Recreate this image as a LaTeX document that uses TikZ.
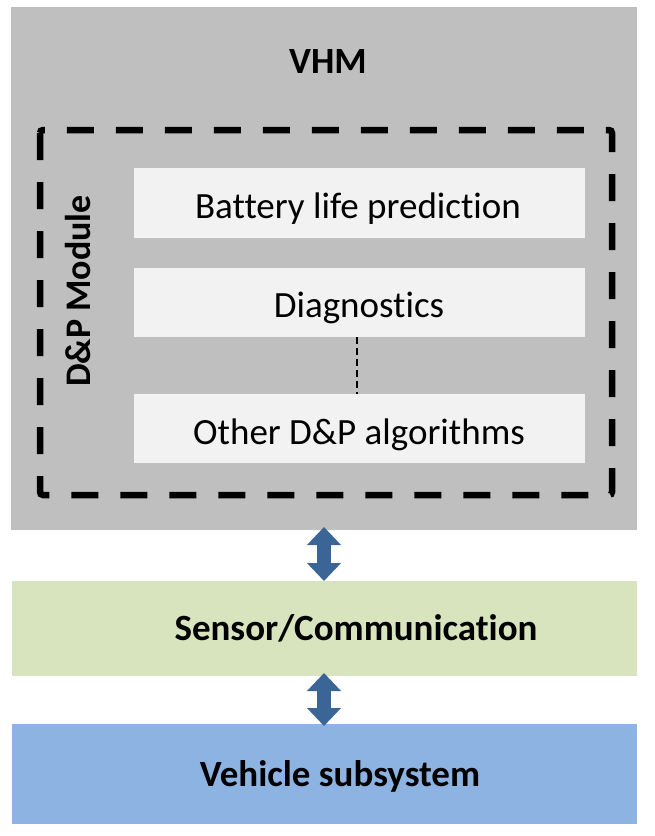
\documentclass[tikz,border=0pt]{standalone}
\usepackage{fontspec}
\setmainfont[Ligatures={NoCommon}]{Carlito}
\usetikzlibrary{arrows.meta}
\definecolor{vhmgray}{HTML}{BFBFBF}
\definecolor{boxlight}{HTML}{F2F2F2}
\definecolor{sensgreen}{HTML}{D7E4BD}
\definecolor{vehblue}{HTML}{8DB3E2}
\definecolor{arrblue}{HTML}{3C6597}
\tikzset{
  x=1pt, y=-1pt,
  lbl/.style={inner sep=0pt, anchor=base, font=\fontsize{37}{40}\selectfont},
  blbl/.style={lbl, font=\fontsize{37}{40}\selectfont\bfseries},
  dpbox/.style={draw=black, line width=6.5pt, dash pattern=on 27pt off 22pt, rounded corners=3pt},
  dblarrow/.style={draw=arrblue, line width=14pt, {Triangle[width=33pt,length=18pt]}-{Triangle[width=33pt,length=18pt]}},
  vdash/.style={draw=black, line width=2.5pt, dash pattern=on 7pt off 4pt}
}
\begin{document}
\begin{tikzpicture}
\useasboundingbox (0,0) rectangle (655,836);
\fill[white] (0,0) rectangle (655,836);
% main panels
\path[fill=vhmgray] (11,7) rectangle (637,530);
\coordinate (vhmS) at (324,530);
\path[fill=sensgreen] (12,581) rectangle (637,676);
\coordinate (sensN) at (324,581);
\coordinate (sensS) at (324,676);
\path[fill=vehblue] (12,724) rectangle (637,824);
\coordinate (vehN) at (324,724);
% titles
\node[blbl] (vhm) at (328,73) {VHM};
\node[blbl] (sens) at (356,640) {Sensor/Communication};
\node[blbl] (veh) at (340,786) {Vehicle subsystem};
% dashed module
\draw[dpbox] (40,130) rectangle (612,495);
\node[inner sep=0pt, rotate=90, font=\fontsize{36}{40}\selectfont\bfseries] (dp) at (78,291) {D\&P Module};
% algorithm boxes
\path[fill=boxlight] (134,168) rectangle (585,238);
\path[fill=boxlight] (134,268) rectangle (585,337);
\path[fill=boxlight] (134,394) rectangle (585,463);
\coordinate (diagS) at (357,337);
\coordinate (otherN) at (357,394);
\node[lbl] (bat) at (358,218) {Battery life prediction};
\node[lbl] (diag) at (359,317) {Diagnostics};
\node[lbl] (other) at (359,444) {Other D\&P algorithms};
\draw[vdash] (diagS) -- (otherN);
% arrows
\draw[dblarrow, shorten <=-3pt] (vhmS) -- (sensN);
\draw[dblarrow, shorten <=-3pt, shorten >=-2pt] (sensS) -- (vehN);
\end{tikzpicture}
\end{document}
